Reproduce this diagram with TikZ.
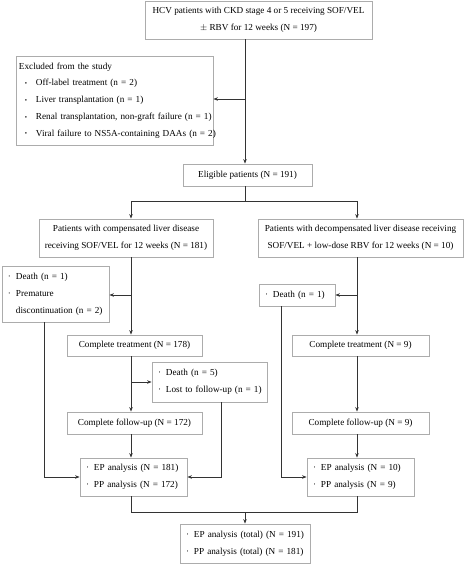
\documentclass[tikz,border=0pt]{standalone}
\usepackage{fontspec}
\setmainfont{Liberation Serif}
\usetikzlibrary{arrows.meta,calc}
\newcommand{\bl}[1]{\mbox{\makebox[8pt][l]{\textperiodcentered}#1}}
\newcommand{\bb}[1]{\mbox{\hspace*{6pt}\makebox[11pt][l]{\raisebox{0.5pt}{\scalebox{0.7}{\textbullet}}}#1}}
\begin{document}
\begin{tikzpicture}[x=1pt,y=-1pt,
  box/.style={draw=gray!65, line width=0.8pt, inner sep=0pt, rectangle,
    font=\fontsize{9.2}{16.8}\selectfont, align=center},
  lbox/.style={box, align=left, inner xsep=6pt},
  conn/.style={draw=black!80, line width=0.8pt},
  arr/.style={conn, -{Stealth[length=4.5pt,width=3.5pt]}}]
\useasboundingbox (0,0) rectangle (466,566);
% boxes
\node[box, minimum width=227pt, minimum height=38pt] (top) at (258.5,20)
  {HCV patients with CKD stage 4 or 5 receiving SOF/VEL\\$\pm$ RBV for 12 weeks (N = 197)};
\node[lbox, inner xsep=3pt, text width=191pt, minimum height=89pt] (excl) at (114.5,100.5)
  {\mbox{Excluded from the study}\\
   \bb{Off-label treatment (n = 2)}\\
   \bb{Liver transplantation (n = 1)}\\
   \bb{Renal transplantation, non-graft failure (n = 1)}\\
   \bb{Viral failure to NS5A-containing DAAs (n = 2)}};
\node[box, minimum width=129pt, minimum height=22pt] (elig) at (247.5,175) {Eligible patients (N = 191)};
\node[box, minimum width=174pt, minimum height=38pt] (comp) at (126,238)
  {Patients with compensated liver disease\\receiving SOF/VEL for 12 weeks (N = 181)};
\node[box, minimum width=205pt, minimum height=38pt] (decomp) at (360.5,238)
  {Patients with decompensated liver disease receiving\\SOF/VEL + low-dose RBV for 12 weeks (N = 10)};
\node[lbox, text width=95pt, minimum height=56pt] (deathL) at (55.5,294)
  {\bl{Death (n = 1)}\\ \bl{Premature}\\ \mbox{\hspace*{8pt}discontinuation (n = 2)}};
\node[lbox, text width=64pt, minimum height=22pt] (deathR) at (297,295) {\bl{Death (n = 1)}};
\node[box, minimum width=135pt, minimum height=21pt] (ctL) at (134.5,345.5) {Complete treatment (N = 178)};
\node[box, minimum width=137pt, minimum height=21pt] (ctR) at (360.5,345.5) {Complete treatment (N = 9)};
\node[lbox, text width=103pt, minimum height=40pt] (dl) at (209.5,382)
  {\bl{Death (n = 5)}\\ \bl{Lost to follow-up (n = 1)}};
\node[box, minimum width=135pt, minimum height=22pt] (cfL) at (134.5,423) {Complete follow-up (N = 172)};
\node[box, minimum width=137pt, minimum height=22pt] (cfR) at (360.5,423) {Complete follow-up (N = 9)};
\node[lbox, text width=95pt, minimum height=38pt] (epL) at (133.5,477)
  {\bl{EP analysis (N = 181)}\\ \bl{PP analysis (N = 172)}};
\node[lbox, text width=95pt, minimum height=38pt] (epR) at (360.5,477)
  {\bl{EP analysis (N = 10)}\\ \bl{PP analysis (N = 9)}};
\node[lbox, text width=118pt, minimum height=39pt] (bot) at (245,543.5)
  {\bl{EP analysis (total) (N = 191)}\\ \bl{PP analysis (total) (N = 181)}};
% coordinates
\coordinate (m1) at (245,99);
\coordinate (split) at (245,201);
\coordinate (cL) at (131,201);
\coordinate (cR) at (357,201);
\coordinate (jL1) at (131,295);
\coordinate (jL2) at (131,382);
\coordinate (jR1) at (357,295);
\coordinate (xL) at (44,477);
\coordinate (xM) at (221,477);
\coordinate (xR) at (281,477);
\coordinate (mL) at (131,512);
\coordinate (mR) at (357,512);
\coordinate (mC) at (245,512);
% connectors
\draw[arr] (top.south -| m1) -- (elig.north -| m1);
\draw[arr] (m1) -- (excl.east |- m1);
\draw[conn] (elig.south -| split) -- (split);
\draw[conn] (cL) -- (cR);
\draw[arr] (cL) -- (comp.north -| cL);
\draw[arr] (cR) -- (decomp.north -| cR);
\draw[arr] (comp.south -| cL) -- (ctL.north -| cL);
\draw[arr] (jL1) -- (deathL.east |- jL1);
\draw[arr] (ctL.south -| cL) -- (cfL.north -| cL);
\draw[arr] (jL2) -- (dl.west |- jL2);
\draw[arr] (cfL.south -| cL) -- (epL.north -| cL);
\draw[arr] (deathL.south -| xL) -- (xL) -- (epL.west |- xL);
\draw[arr] (dl.south -| xM) -- (xM) -- (epL.east |- xM);
\draw[arr] (decomp.south -| cR) -- (ctR.north -| cR);
\draw[arr] (jR1) -- (deathR.east |- jR1);
\draw[arr] (ctR.south -| cR) -- (cfR.north -| cR);
\draw[arr] (cfR.south -| cR) -- (epR.north -| cR);
\draw[arr] (deathR.south -| xR) -- (xR) -- (epR.west |- xR);
\draw[conn] (epL.south -| mL) -- (mL) -- (mR) -- (epR.south -| mR);
\draw[arr] (mC) -- (bot.north -| mC);
\end{tikzpicture}
\end{document}
